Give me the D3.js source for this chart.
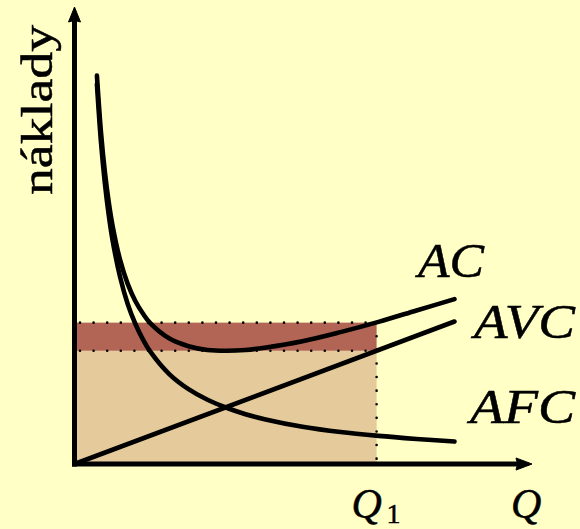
<!DOCTYPE html>
<html><head><meta charset="utf-8">
<script src="https://cdn.jsdelivr.net/npm/d3@7"></script>
<style>html,body{margin:0;padding:0;background:#ffffc6;}svg{display:block;}</style>
</head><body>
<svg id="c" width="580" height="529"></svg>
<script>
// Data (units: quantity Q, cost)
const qValues  = [0.59, 0.7, 0.8, 0.9, 1.0, 1.2, 1.4, 1.6, 1.8, 2.0, 2.5, 3.0, 3.5, 4.0, 4.5, 5.0, 6.0, 7.0, 8.0, 9.0, 10.0];
const afcValues = [10.0, 8.43, 7.38, 6.56, 5.9, 4.92, 4.21, 3.69, 3.28, 2.95, 2.36, 1.97, 1.69, 1.48, 1.31, 1.18, 0.98, 0.84, 0.74, 0.66, 0.59];
const acValues  = [10.22, 8.69, 7.68, 6.90, 6.28, 5.37, 4.74, 4.29, 3.96, 3.70, 3.30, 3.10, 3.00, 2.98, 3.00, 3.06, 3.23, 3.47, 3.74, 4.04, 4.34];
const avcQ = [0, 10];
const avcValues = [0, 3.75];
const q1 = 7.95;
const avcAtQ1 = 2.98;
const acAtQ1 = 3.72;
const curveLabels = ["AC", "AVC", "AFC"];
const yLabel = "náklady";
const xLabel = "Q";

const svg = d3.select("#c");
const x = d3.scaleLinear().domain([0, 12]).range([74.5, 530.5]);
const y = d3.scaleLinear().domain([0, 12]).range([464, 8]);

// rectangles
svg.append("rect").attr("x", x(0)).attr("width", x(q1) - x(0))
  .attr("y", y(avcAtQ1)).attr("height", y(0) - y(avcAtQ1)).attr("fill", "#e5cb9b");
svg.append("rect").attr("x", x(0)).attr("width", x(q1) - x(0))
  .attr("y", y(acAtQ1)).attr("height", y(avcAtQ1) - y(acAtQ1)).attr("fill", "#b26555");

// dotted lines
const dot = g => g.attr("stroke", "#000").attr("stroke-width", 2.6)
  .attr("stroke-linecap", "round").attr("stroke-dasharray", "0 13.6").attr("fill", "none");
svg.append("line").attr("x1", x(0) + 5.5).attr("x2", x(q1)).attr("y1", y(acAtQ1)).attr("y2", y(acAtQ1)).call(dot);
svg.append("line").attr("x1", x(0) + 5.5).attr("x2", x(q1)).attr("y1", y(avcAtQ1)).attr("y2", y(avcAtQ1)).call(dot);
svg.append("line").attr("x1", x(q1)).attr("x2", x(q1)).attr("y1", y(acAtQ1)).attr("y2", y(0)).call(dot);

// curves
const line = d3.line().x(d => x(d[0])).y(d => y(d[1])).curve(d3.curveCatmullRom);
const curveStyle = p => p.attr("fill", "none").attr("stroke", "#000").attr("stroke-width", 4.6)
  .attr("stroke-linecap", "round").attr("stroke-linejoin", "round");
svg.append("path").attr("d", line(qValues.map((q, i) => [q, afcValues[i]]))).call(curveStyle);
svg.append("path").attr("d", line(qValues.map((q, i) => [q, acValues[i]]))).call(curveStyle);
svg.append("path").attr("d", line(avcQ.map((q, i) => [q, avcValues[i]]))).call(curveStyle);

// axes
svg.append("line").attr("x1", x(0)).attr("x2", x(0)).attr("y1", y(0) + 2.5).attr("y2", 20)
  .attr("stroke", "#000").attr("stroke-width", 5);
svg.append("line").attr("x1", x(0) - 2.5).attr("x2", 518).attr("y1", y(0)).attr("y2", y(0))
  .attr("stroke", "#000").attr("stroke-width", 5);
// arrowheads
const ax = x(0);
svg.append("path").attr("d", `M${ax},7 Q${ax+2},12 ${ax+6},22 Q${ax},19 ${ax-6},22 Q${ax-2},12 ${ax},7Z`)
  .attr("fill", "#000").attr("stroke", "#000").attr("stroke-width", 1).attr("stroke-linejoin", "round");
const ay = y(0);
svg.append("path").attr("d", `M532,${ay} Q527,${ay+2} 516,${ay+6} Q519,${ay} 516,${ay-6} Q527,${ay-2} 532,${ay}Z`)
  .attr("fill", "#000").attr("stroke", "#000").attr("stroke-width", 1).attr("stroke-linejoin", "round");

// labels
const serif = "'Liberation Serif', 'DejaVu Serif', serif";
const heavy = t => t.attr("fill", "#000").attr("stroke", "#000").attr("stroke-width", 0.5);
svg.append("text").attr("transform", "translate(51.5,195) rotate(-90)")
  .attr("font-family", serif).attr("font-size", 44)
  .attr("textLength", 170).attr("lengthAdjust", "spacingAndGlyphs").call(heavy).text(yLabel);

const labelPos = [[418, 277, 66], [474, 338, 101], [470, 423, 105]];
curveLabels.forEach((t, i) => {
  svg.append("text").attr("x", labelPos[i][0]).attr("y", labelPos[i][1])
    .attr("font-family", serif).attr("font-style", "italic").attr("font-size", 48)
    .attr("textLength", labelPos[i][2]).attr("lengthAdjust", "spacingAndGlyphs")
    .call(heavy).text(t);
});

svg.append("text").attr("x", x(q1) - 25).attr("y", 518)
  .attr("font-family", serif).attr("font-style", "italic").attr("font-size", 42).call(heavy).text(xLabel);
svg.append("text").attr("x", x(q1) + 10).attr("y", 523)
  .attr("font-family", serif).attr("font-size", 28).call(heavy).text("1");
svg.append("text").attr("x", 511).attr("y", 518)
  .attr("font-family", serif).attr("font-style", "italic").attr("font-size", 42).call(heavy).text(xLabel);
</script>
</body></html>
